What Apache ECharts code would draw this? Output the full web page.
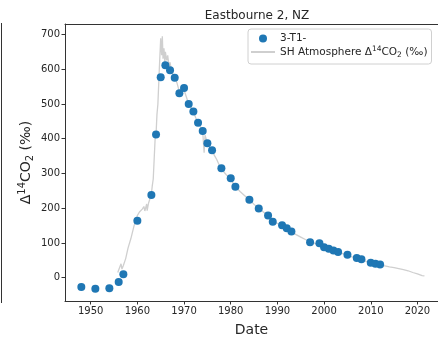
<!DOCTYPE html>
<html>
<head>
<meta charset="utf-8">
<script src="https://cdn.jsdelivr.net/npm/echarts@6/dist/echarts.min.js"></script>
<style>
  html, body { margin: 0; padding: 0; background: #fff; }
  #chart { width: 438px; height: 342px; }
</style>
</head>
<body>
<div id="chart"></div>
<script>
// Sample points (3-T1-)
const sampleYears = [1948, 1951, 1954, 1956, 1957, 1960, 1963, 1964, 1965, 1966, 1967, 1968, 1969, 1970,
    1971, 1972, 1973, 1974, 1975, 1976, 1978, 1980, 1981, 1984, 1986, 1988, 1989, 1991, 1992, 1993,
    1997, 1999, 2000, 2001, 2002, 2003, 2005, 2007, 2008, 2010, 2011, 2012];
const sampleValues = [-27, -32, -30, -12, 10, 164, 238, 412, 577, 611, 597, 575, 531, 546,
    500, 478, 446, 422, 387, 367, 315, 286, 262, 224, 199, 179, 161, 151, 142, 133,
    102, 99, 88, 83, 78, 74, 66, 57, 53, 43, 40, 38];

// SH atmosphere record
const atmoYears = [1955.8, 1956.2, 1956.5, 1956.7, 1957.0, 1957.5, 1958.0, 1958.6, 1959.3, 1960.0,
    1960.5, 1961.1, 1961.4, 1961.6, 1962.0, 1962.1, 1962.4, 1962.7, 1963.0, 1963.2, 1963.4, 1963.6,
    1963.8, 1964.0, 1964.2, 1964.4, 1964.7, 1965.0, 1965.2, 1965.35, 1965.5, 1965.7, 1965.9, 1966.0,
    1966.3, 1966.5, 1966.8, 1967.0, 1967.3, 1967.6, 1968.0, 1968.5, 1969.0, 1969.5, 1970.0, 1970.5,
    1971.0, 1971.5, 1972.0, 1972.5, 1973.0, 1973.5, 1974.0, 1974.3, 1974.5, 1975.0, 1975.5, 1976.0,
    1976.5, 1977.0, 1977.5, 1978.0, 1978.5, 1979.0, 1979.5, 1980.0, 1980.5, 1981.0, 1982.0, 1983.0,
    1984.0, 1985.0, 1986.0, 1987.0, 1988.0, 1989.0, 1990.0, 1991.0, 1992.0, 1993.0, 1994.0, 1995.0,
    1996.0, 1997.0, 1998.0, 1999.0, 2000.0, 2001.0, 2002.0, 2003.0, 2004.0, 2005.0, 2006.0, 2007.0,
    2008.0, 2009.0, 2010.0, 2011.0, 2012.0, 2013.0, 2014.0, 2015.0, 2016.0, 2017.0, 2018.0, 2019.0,
    2020.0, 2021.0, 2021.5];
const atmoValues = [15, 20, 40, 25, 35, 55, 85, 112, 150, 179,
    190, 198, 205, 192, 212, 193, 215, 227, 241, 265, 284, 341,
    398, 412, 470, 500, 600, 689, 640, 695, 630, 660, 612, 650,
    625, 640, 605, 620, 595, 600, 575, 560, 535, 550, 540, 520,
    500, 490, 478, 460, 446, 435, 420, 360, 410, 388, 375, 367,
    352, 340, 325, 315, 305, 297, 290, 283, 272, 262, 248, 236,
    224, 211, 199, 189, 178, 166, 156, 149, 141, 132, 124, 117,
    110, 104, 99, 94, 88, 82, 77, 73, 69, 65, 60, 56,
    52, 47, 43, 40, 37, 34, 31, 29, 26, 23, 20, 15,
    11, 6, 5];

const xTicks = [1950, 1960, 1970, 1980, 1990, 2000, 2010, 2020];
const yTicks = [0, 100, 200, 300, 400, 500, 600, 700];

const FONT = 'DejaVu Sans';
const INK = '#262626';

const chart = echarts.init(document.getElementById('chart'), null, { renderer: 'canvas' });

const option = {
    backgroundColor: '#fff',
    animation: false,
    textStyle: { fontFamily: FONT },
    title: {
        text: 'Eastbourne 2, NZ',
        left: 252,
        textAlign: 'center',
        top: 5,
        textStyle: { fontFamily: FONT, fontSize: 12, fontWeight: 'normal', color: INK }
    },
    grid: { left: 65, right: 0, top: 24, bottom: 39 },
    legend: {
        left: 248,
        top: 29,
        orient: 'vertical',
        padding: [4, 4, 5, 2],
        itemGap: 1,
        itemWidth: 24,
        itemHeight: 8,
        borderColor: '#d0d0d0',
        borderWidth: 1,
        borderRadius: 3,
        data: [
            { name: '3-T1-', icon: 'circle' },
            { name: 'SH Atmosphere', itemStyle: { opacity: 0 } }
        ],
        formatter: function (name) {
            if (name === 'SH Atmosphere') {
                return '{t|SH Atmosphere Δ}{sup|14}{t|CO}{sub|2}{t| (‰)}';
            }
            return '{t|' + name + '}';
        },
        textStyle: {
            fontFamily: FONT,
            color: INK,
            rich: {
                t: { fontFamily: FONT, fontSize: 10.5, color: INK, lineHeight: 14 },
                sup: { fontFamily: FONT, fontSize: 7.5, color: INK, verticalAlign: 'top', lineHeight: 14, padding: [0, 0, 4, 0] },
                sub: { fontFamily: FONT, fontSize: 7.5, color: INK, verticalAlign: 'bottom', lineHeight: 14, padding: [4, 0, 0, 0] }
            }
        }
    },
    xAxis: [
        {
            type: 'value',
            min: 1944.5,
            max: 2024.4,
            name: 'Date',
            nameLocation: 'middle',
            nameGap: 22,
            nameMoveOverlap: false,
            nameTextStyle: { fontFamily: FONT, fontSize: 14, color: INK },
            axisLine: { show: true, onZero: false, lineStyle: { color: '#333', width: 1 } },
            axisTick: { show: true, inside: false, length: 3.5, customValues: xTicks, lineStyle: { color: '#333' } },
            axisLabel: {
                customValues: xTicks, fontFamily: FONT, fontSize: 10, color: INK, margin: 5,
                formatter: v => String(v)
            },
            splitLine: { show: false }
        },
        {
            type: 'value',
            position: 'top',
            min: 1944.5,
            max: 2024.4,
            axisLine: { show: true, onZero: false, lineStyle: { color: '#333', width: 1 } },
            axisTick: { show: false },
            axisLabel: { show: false },
            splitLine: { show: false }
        }
    ],
    yAxis: {
        type: 'value',
        min: -67,
        max: 730,
        name: '{t|Δ}{sup|14}{t|CO}{sub|2}{t| (‰)}',
        nameLocation: 'middle',
        nameRotate: 90,
        nameGap: 30,
        nameMoveOverlap: false,
        nameTextStyle: {
            fontFamily: FONT,
            color: INK,
            rich: {
                t: { fontFamily: FONT, fontSize: 14, color: INK, lineHeight: 18 },
                sup: { fontFamily: FONT, fontSize: 10, color: INK, verticalAlign: 'top', lineHeight: 18, padding: [0, 0, 6, 0] },
                sub: { fontFamily: FONT, fontSize: 10, color: INK, verticalAlign: 'bottom', lineHeight: 18, padding: [5, 0, 0, 0] }
            }
        },
        axisLine: { show: true, onZero: false, lineStyle: { color: '#333', width: 1 } },
        axisTick: { show: true, inside: false, length: 3.5, customValues: yTicks, lineStyle: { color: '#333' } },
        axisLabel: { customValues: yTicks, fontFamily: FONT, fontSize: 10, color: INK, margin: 5 },
        splitLine: { show: false }
    },
    graphic: [
        {
            type: 'line',
            shape: { x1: 1.5, y1: 23, x2: 1.5, y2: 303 },
            style: { stroke: '#333', lineWidth: 1 }
        }
    ],
    series: [
        {
            name: 'SH Atmosphere',
            type: 'line',
            data: atmoYears.map((y, i) => [y, atmoValues[i]]),
            showSymbol: false,
            symbol: 'none',
            lineStyle: { color: '#cfcfcf', width: 1.3 },
            itemStyle: { color: '#cfcfcf' },
            z: 1
        },
        {
            name: '3-T1-',
            type: 'scatter',
            data: sampleYears.map((y, i) => [y, sampleValues[i]]),
            symbolSize: 8,
            itemStyle: { color: '#1f77b4', opacity: 1 },
            z: 2
        }
    ]
};

chart.setOption(option);
</script>
</body>
</html>
